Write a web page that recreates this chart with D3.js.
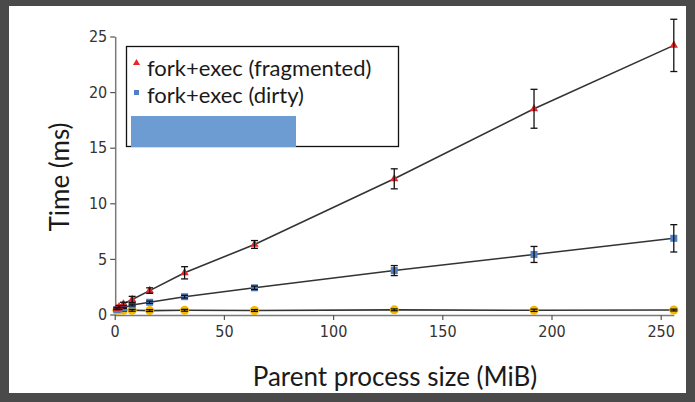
<!DOCTYPE html>
<html>
<head>
<meta charset="utf-8">
<script src="https://cdn.jsdelivr.net/npm/d3@7"></script>
<style>
  html, body { margin: 0; padding: 0; background: #4a4a4a; }
  svg { display: block; }
  text { font-family: "Lato", "Open Sans", sans-serif; }
</style>
</head>
<body>
<svg id="chart" width="695" height="402"></svg>
<script>
// ---- data ----
const sizes = [1, 2, 4, 8, 16, 32, 64, 128, 192, 256];
const fragmented = [0.55, 0.7, 0.95, 1.35, 2.15, 3.75, 6.3, 12.2, 18.5, 24.2];
const fragmentedErr = [0.08, 0.1, 0.15, 0.28, 0.25, 0.55, 0.35, 0.9, 1.75, 2.35];
const dirty = [0.45, 0.5, 0.6, 0.85, 1.1, 1.6, 2.4, 3.95, 5.4, 6.85];
const dirtyErr = [0.05, 0.05, 0.05, 0.08, 0.1, 0.12, 0.15, 0.45, 0.72, 1.23];
const third = [0.38, 0.38, 0.38, 0.38, 0.35, 0.38, 0.36, 0.42, 0.38, 0.40];
const thirdErr = [0.08, 0.08, 0.08, 0.08, 0.08, 0.08, 0.08, 0.08, 0.1, 0.08];
const xTicks = [0, 50, 100, 150, 200, 250];
const yTicks = [0, 5, 10, 15, 20, 25];
const legendLabels = ["fork+exec (fragmented)", "fork+exec (dirty)"];
const xTitle = "Parent process size (MiB)";
const yTitle = "Time (ms)";

const svg = d3.select("#chart");
// white canvas inside dark frame
svg.append("rect").attr("x", 9).attr("y", 6).attr("width", 677).attr("height", 387).attr("fill", "#ffffff");

const x = d3.scaleLinear().domain([0, 256]).range([114.7, 673.8]);
const y = d3.scaleLinear().domain([0, 25]).range([314.5, 36.5]);

// axes
const xAxis = svg.append("g").attr("transform", `translate(0,${y(0) + 0.5})`)
  .call(d3.axisBottom(x).tickValues(xTicks).tickSize(5).tickSizeOuter(0).tickPadding(6));
const yAxis = svg.append("g").attr("transform", `translate(${x(0) + 0.5},0)`)
  .call(d3.axisLeft(y).tickValues(yTicks).tickSize(5).tickSizeOuter(0).tickPadding(3));
[xAxis, yAxis].forEach(g => {
  g.select(".domain").attr("stroke", "#7a7a7a").attr("stroke-width", 1.5);
  g.selectAll(".tick line").attr("stroke", "#555").attr("stroke-width", 1.2);
  g.selectAll(".tick text").attr("fill", "#333").style("font-size", "16px")
    .style("font-family", "'Liberation Sans Narrow', 'DejaVu Sans Condensed', Lato, sans-serif");
});

// titles
svg.append("text").attr("x", 395).attr("y", 386).attr("text-anchor", "middle")
  .attr("fill", "#1a1a1a").style("font-size", "26px").text(xTitle);
svg.append("text").attr("transform", `translate(69,177) rotate(-90)`).attr("text-anchor", "middle")
  .attr("fill", "#1a1a1a").style("font-size", "26px").text(yTitle);

const series = [
  { vals: third, err: thirdErr, color: "#f5b800", shape: "circle" },
  { vals: dirty, err: dirtyErr, color: "#4f7fc4", shape: "square" },
  { vals: fragmented, err: fragmentedErr, color: "#e8262c", shape: "triangle" }
];

const line = d3.line().x(d => x(d[0])).y(d => y(d[1]));

series.forEach(s => {
  const pts = sizes.map((sz, i) => [sz, s.vals[i], s.err[i]]);
  svg.append("path").datum(pts).attr("d", line).attr("fill", "none")
    .attr("stroke", "#333").attr("stroke-width", 1.6);
  const g = svg.append("g");
  if (s.shape === "circle") {
    g.selectAll("circle").data(pts).join("circle")
      .attr("cx", d => x(d[0])).attr("cy", d => y(d[1])).attr("r", 4.5).attr("fill", s.color);
  } else if (s.shape === "square") {
    g.selectAll("rect").data(pts).join("rect")
      .attr("x", d => x(d[0]) - 3.5).attr("y", d => y(d[1]) - 3.5).attr("width", 7).attr("height", 7).attr("fill", s.color);
  } else {
    const tri = d3.symbol().type(d3.symbolTriangle).size(30);
    g.selectAll("path").data(pts).join("path")
      .attr("transform", d => `translate(${x(d[0])},${y(d[1])})`).attr("d", tri).attr("fill", s.color);
  }
  // error bars
  const eb = svg.append("g").attr("stroke", "#111").attr("stroke-width", 1.3);
  pts.forEach(d => {
    const cx = x(d[0]), y1 = y(d[1] + d[2]), y2 = y(d[1] - d[2]);
    eb.append("line").attr("x1", cx).attr("x2", cx).attr("y1", y1).attr("y2", y2);
    eb.append("line").attr("x1", cx - 3.5).attr("x2", cx + 3.5).attr("y1", y1).attr("y2", y1);
    eb.append("line").attr("x1", cx - 3.5).attr("x2", cx + 3.5).attr("y1", y2).attr("y2", y2);
  });
});

// legend
const lg = svg.append("g");
lg.append("rect").attr("x", 126.5).attr("y", 46.5).attr("width", 272).attr("height", 100)
  .attr("fill", "#fff").attr("stroke", "#111").attr("stroke-width", 1.3);
lg.append("path").attr("transform", "translate(136.5,63)").attr("d", d3.symbol().type(d3.symbolTriangle).size(22)).attr("fill", "#e8262c");
lg.append("rect").attr("x", 134).attr("y", 90).attr("width", 5).attr("height", 5).attr("fill", "#4f7fc4");
lg.selectAll("text").data(legendLabels).join("text")
  .attr("x", 147).attr("y", (d, i) => 76 + i * 27).attr("fill", "#1a1a1a").style("font-size", "22px").text(d => d);
lg.append("rect").attr("x", 131).attr("y", 116).attr("width", 165).attr("height", 31).attr("fill", "#6d9cd2");
</script>
</body>
</html>
